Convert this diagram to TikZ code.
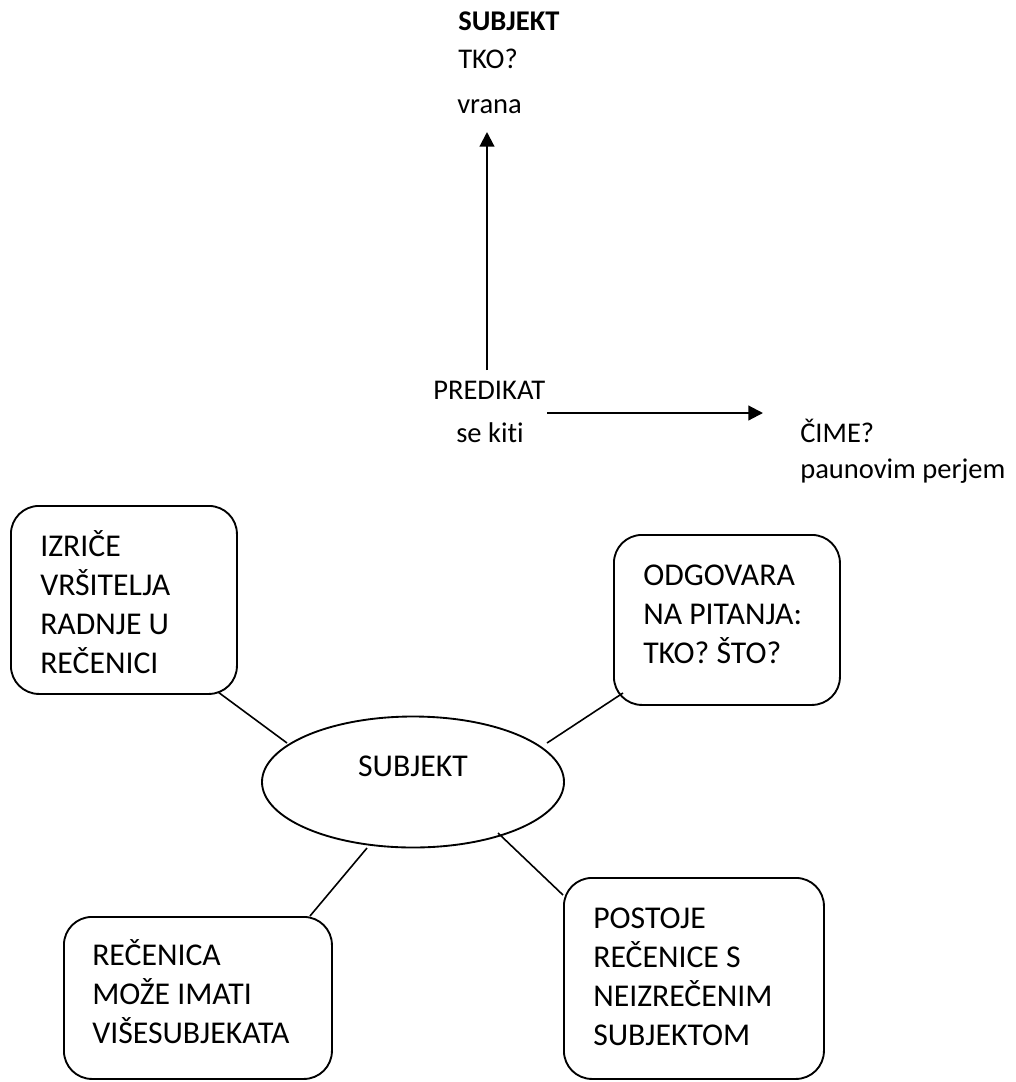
\documentclass[tikz,border=0pt]{standalone}
\usepackage{fontspec}
\setmainfont{Carlito}[Ligatures=NoCommon]
\usetikzlibrary{shapes.geometric,arrows.meta}
\begin{document}
\begin{tikzpicture}[x=0.75pt,y=-0.75pt,
  small/.style={inner sep=0pt,anchor=base west,font=\fontsize{21.4}{25}\selectfont},
  boxtxt/.style={inner sep=0pt,anchor=base west,font=\fontsize{23.8}{29.25}\selectfont},
  bubble/.style={draw,line width=1.4pt,rounded corners=21pt,anchor=north west,inner sep=0pt},
  conn/.style={line width=1.2pt},
  arr/.style={line width=1.6pt,-{Triangle[length=11pt,width=11pt]}}]
\useasboundingbox (0,0) rectangle (1016,1082);

% top texts
\node[small,font=\fontsize{21.4}{25}\selectfont\bfseries] (subjtop) at (458,30) {SUBJEKT};
\node[small] (tko) at (458,68) {TKO?};
\node[small] (vrana) at (457,113) {vrana};
\node[small] (pred) at (433,399) {PREDIKAT};
\node[small] (sekiti) at (456,442) {se kiti};
\node[small] (cime) at (800,442) {ČIME?};
\node[small] (paun) at (800,478) {paunovim perjem};

\coordinate (ar1s) at (487,370);
\coordinate (ar1e) at (487,132);
\coordinate (ar2s) at (547,413);
\coordinate (ar2e) at (763,413);
\draw[arr] (ar1s) -- (ar1e);
\draw[arr] (ar2s) -- (ar2e);

% ellipse
\node[draw,ellipse,line width=1.4pt,inner sep=0pt,minimum width=226.5pt,minimum height=98.25pt] (ell) at (413,782) {};
\node[inner sep=0pt,anchor=base,font=\fontsize{23.8}{29.25}\selectfont] (elltxt) at (413,776) {SUBJEKT};

% boxes
\node[bubble,minimum width=169.5pt,minimum height=141pt] (b1) at (10,505) {};
\node[bubble,minimum width=169.5pt,minimum height=127.5pt] (b2) at (613,534) {};
\node[bubble,minimum width=201pt,minimum height=121.5pt] (b3) at (63,916) {};
\node[bubble,minimum width=195pt,minimum height=150.75pt] (b4) at (563,877) {};

\node[boxtxt] (t1) at (40,556) {\begin{tabular}[t]{@{}l@{}}IZRIČE\\VRŠITELJA\\RADNJE U\\REČENICI\end{tabular}};
\node[boxtxt] (t2) at (643,585) {\begin{tabular}[t]{@{}l@{}}ODGOVARA\\NA PITANJA:\\TKO? ŠTO?\end{tabular}};
\node[boxtxt] (t3) at (92,965) {\begin{tabular}[t]{@{}l@{}}REČENICA\\MOŽE IMATI\\VIŠESUBJEKATA\end{tabular}};
\node[boxtxt] (t4) at (593,928) {\begin{tabular}[t]{@{}l@{}}POSTOJE\\REČENICE S\\NEIZREČENIM\\SUBJEKTOM\end{tabular}};

% connectors
\coordinate (c1a) at (218,692);
\coordinate (c1b) at (287,743);
\coordinate (c2a) at (623,693);
\coordinate (c2b) at (547,743);
\coordinate (c3a) at (367,848);
\coordinate (c3b) at (310,916);
\coordinate (c4a) at (498,833);
\coordinate (c4b) at (563,895);
\draw[conn] (c1a) -- (c1b);
\draw[conn] (c2a) -- (c2b);
\draw[conn] (c3a) -- (c3b);
\draw[conn] (c4a) -- (c4b);
\end{tikzpicture}
\end{document}
